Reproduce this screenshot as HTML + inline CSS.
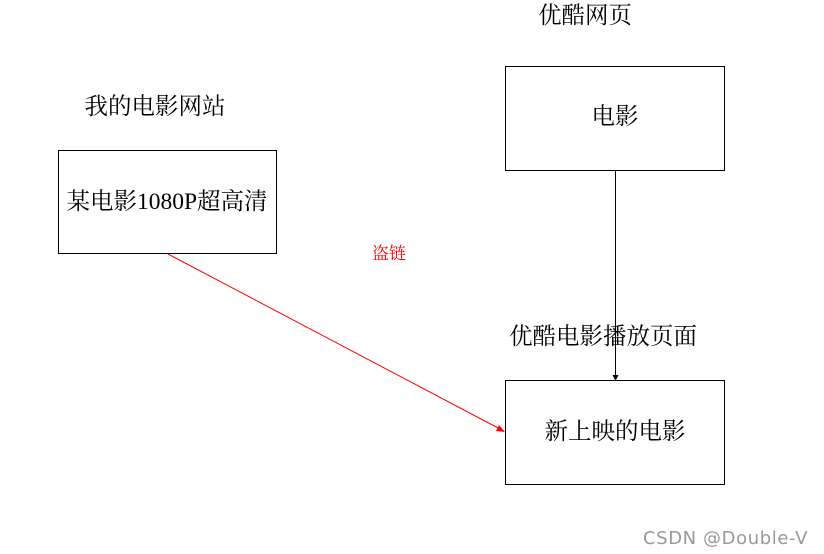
<!DOCTYPE html>
<html><head><meta charset="utf-8"><style>
html,body{margin:0;padding:0;background:#fff;}
svg{display:block;}
text{font-family:"Liberation Serif","Noto Serif CJK SC",serif;font-size:23.5px;fill:#000;}
</style></head><body>
<svg width="824" height="554" xmlns="http://www.w3.org/2000/svg">
<rect x="58.5" y="150.5" width="218" height="103" fill="none" stroke="#000"/>
<rect x="505.5" y="66.5" width="219" height="104" fill="none" stroke="#000"/>
<rect x="505.5" y="380.5" width="219" height="104" fill="none" stroke="#000"/>
<line x1="615.5" y1="171" x2="615.5" y2="376" stroke="#000"/>
<polygon points="612.5,375 618.5,375 615.5,381" fill="#000"/>
<line x1="168" y1="254" x2="500" y2="429" stroke="#f00"/>
<polygon points="505,432 496,431 499,425" fill="#f00"/>
<text x="585" y="23" text-anchor="middle">优酷网页</text>
<text x="155" y="114" text-anchor="middle">我的电影网站</text>
<text x="167" y="209" text-anchor="middle">某电影1080P超高清</text>
<text x="615" y="124" text-anchor="middle">电影</text>
<text x="389" y="259" text-anchor="middle" style="fill:#f00;font-size:17px">盗链</text>
<text x="603" y="344" text-anchor="middle">优酷电影播放页面</text>
<text x="615" y="439" text-anchor="middle">新上映的电影</text>
<text x="808" y="544" text-anchor="end" style="font-family:'DejaVu Sans',sans-serif;font-size:18px;letter-spacing:0.6px;fill:#999">CSDN @Double-V</text>
</svg>
</body></html>
